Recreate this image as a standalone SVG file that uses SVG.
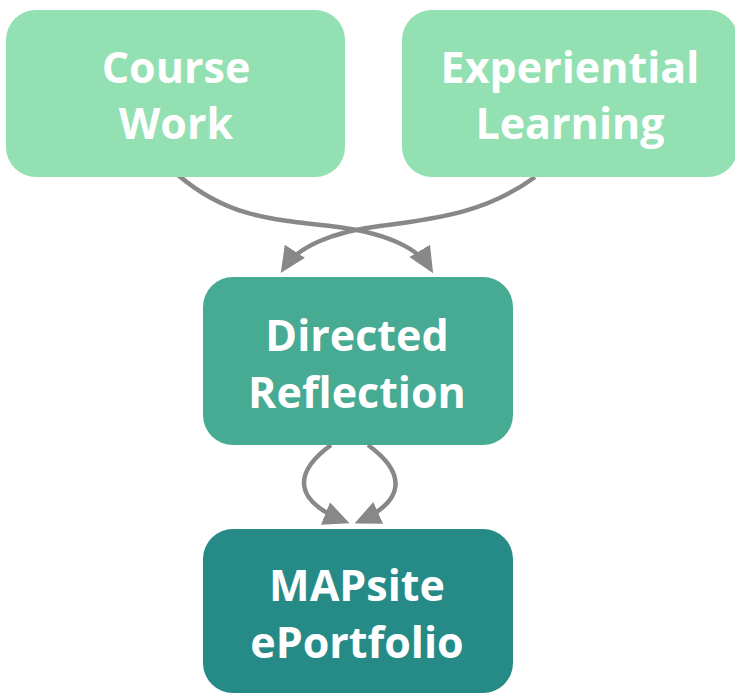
<svg xmlns="http://www.w3.org/2000/svg" width="735" height="694" viewBox="0 0 735 694">
  <style>
    .lbl { font-family: "Open Sans", "Liberation Sans", sans-serif; font-weight: 700; font-size: 43px; fill: #ffffff; text-anchor: middle; font-variant-ligatures: none; }
    .edge { fill: none; stroke: #888888; stroke-width: 4.5; }
    .n-top { fill: #93e0b2; }
    .n-mid { fill: #47aa93; }
    .n-bot { fill: #268b87; }
  </style>
  <defs>
    <marker id="arrow" markerUnits="userSpaceOnUse" markerWidth="30" markerHeight="26" refX="20" refY="12" orient="auto">
      <path d="M0,0 L26,12 L0,24 z" fill="#888888"/>
    </marker>
  </defs>

  <rect width="735" height="694" fill="#ffffff"/>

  <g id="connectors">
    <path class="edge" d="M178,175 C225,215 265,219 330,226 C385,232 418,248 430,268" marker-end="url(#arrow)"/>
    <path class="edge" d="M535,177 C490,210 445,218 380,226 C330,232 297,248 284,268" marker-end="url(#arrow)"/>
    <path class="edge" d="M331,445 C294,472 292,500 344,521" marker-end="url(#arrow)"/>
    <path class="edge" d="M368,445 C405,472 407,500 360,521" marker-end="url(#arrow)"/>
  </g>

  <g id="course-work">
    <rect class="n-top" x="6" y="10" width="339" height="167" rx="30"/>
    <text class="lbl" x="176" y="83">Course</text>
    <text class="lbl" x="176" y="139">Work</text>
  </g>

  <g id="experiential-learning">
    <rect class="n-top" x="402" y="10" width="336" height="167" rx="30"/>
    <text class="lbl" x="570" y="83">Experiential</text>
    <text class="lbl" x="570" y="139">Learning</text>
  </g>

  <g id="directed-reflection">
    <rect class="n-mid" x="203" y="277" width="310" height="168" rx="30"/>
    <text class="lbl" x="357" y="351">Directed</text>
    <text class="lbl" x="357" y="408">Reflection</text>
  </g>

  <g id="mapsite-eportfolio">
    <rect class="n-bot" x="203" y="529" width="310" height="164" rx="30"/>
    <text class="lbl" x="357" y="601">MAPsite</text>
    <text class="lbl" x="357" y="658">ePortfolio</text>
  </g>
</svg>
